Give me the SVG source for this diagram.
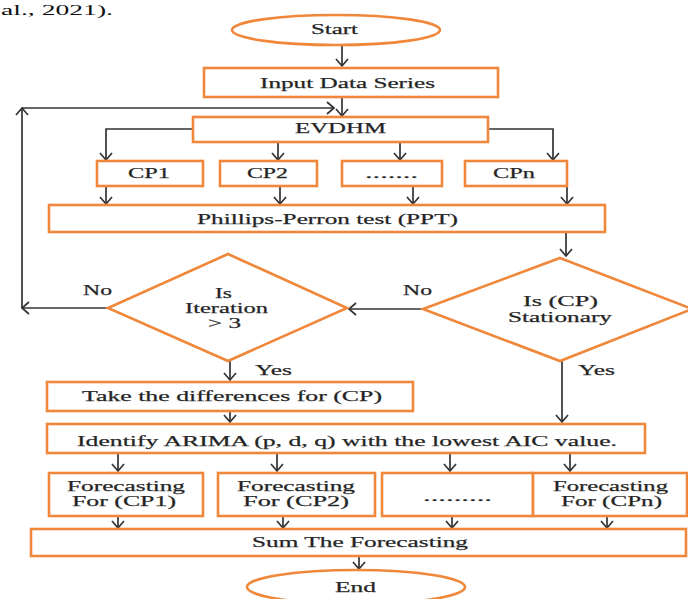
<svg xmlns="http://www.w3.org/2000/svg" width="688" height="599" viewBox="0 0 688 599">
<style>
.box{fill:#fff;stroke:#F0883C;stroke-width:2.6}
.t{font-family:"Liberation Serif","Times New Roman",serif;font-size:15px;fill:#222;stroke:#333;stroke-width:0.25}
.c{fill:none;stroke:#333;stroke-width:1.7}
</style>
<defs>
<marker id="ah" viewBox="-9 -7 11 14" refX="0" refY="0" markerWidth="11" markerHeight="14" markerUnits="userSpaceOnUse" orient="auto">
<path d="M-7,-6 L0,0 L-7,6" fill="none" stroke="#333" stroke-width="1.7"/>
</marker>
</defs>
<rect width="688" height="599" fill="#fff"/>
<text x="1" y="15" font-family="Liberation Serif, serif" font-size="15" fill="#111" textLength="112" lengthAdjust="spacingAndGlyphs">al., 2021).</text>

<g id="connectors" class="c" marker-end="url(#ah)">
<path d="M342,45 V66"/>
<path d="M342,97 V116"/>
<path d="M108,308 H22"/>
<path d="M22,308 V108"/>
<path d="M22,108 H334"/>
<path d="M193,129 H106 V160"/>
<path d="M278,142 V160"/>
<path d="M400,142 V160"/>
<path d="M488,129 H553 V160"/>
<path d="M106,186 V204"/>
<path d="M280,186 V204"/>
<path d="M413,186 V204"/>
<path d="M567,186 V204"/>
<path d="M566,232 V256"/>
<path d="M423,309 H349"/>
<path d="M230,361 V380"/>
<path d="M562,361 V422"/>
<path d="M230,411 V422"/>
<path d="M118,453 V471"/>
<path d="M277,453 V471"/>
<path d="M450,453 V471"/>
<path d="M570,453 V471"/>
<path d="M118,516 V528"/>
<path d="M283,516 V528"/>
<path d="M452,516 V528"/>
<path d="M607,516 V528"/>
<path d="M359,556 V569"/>
</g>

<g id="start"><ellipse class="box" cx="336" cy="30" rx="104" ry="15"/><text class="t" x="311" y="34" textLength="47" lengthAdjust="spacingAndGlyphs">Start</text></g>
<g id="input"><rect class="box" x="204" y="68" width="294" height="29"/><text class="t" x="260" y="88" textLength="175" lengthAdjust="spacingAndGlyphs">Input Data Series</text></g>
<g id="evdhm"><rect class="box" x="193" y="117" width="295" height="25"/><text class="t" x="295" y="133" textLength="91" lengthAdjust="spacingAndGlyphs">EVDHM</text></g>
<g id="cp1"><rect class="box" x="97" y="161" width="106" height="25"/><text class="t" x="128" y="178" textLength="42" lengthAdjust="spacingAndGlyphs">CP1</text></g>
<g id="cp2"><rect class="box" x="220" y="161" width="97" height="25"/><text class="t" x="247" y="178" textLength="41" lengthAdjust="spacingAndGlyphs">CP2</text></g>
<g id="cpdots"><rect class="box" x="342" y="161" width="100" height="25"/><text class="t" x="365" y="178" textLength="53" lengthAdjust="spacingAndGlyphs">.......</text></g>
<g id="cpn"><rect class="box" x="465" y="161" width="102" height="25"/><text class="t" x="493" y="178" textLength="42" lengthAdjust="spacingAndGlyphs">CPn</text></g>
<g id="ppt"><rect class="box" x="49" y="205" width="556" height="27"/><text class="t" x="197" y="224" textLength="261" lengthAdjust="spacingAndGlyphs">Phillips-Perron test (PPT)</text></g>
<g id="iter"><polygon class="box" points="228,254 347,308 228,361 108,308"/>
<text class="t" x="215" y="298" textLength="17" lengthAdjust="spacingAndGlyphs">Is</text>
<text class="t" x="185" y="313" textLength="83" lengthAdjust="spacingAndGlyphs">Iteration</text>
<text class="t" x="208" y="328" textLength="33" lengthAdjust="spacingAndGlyphs">&gt; 3</text></g>
<g id="stationary"><polygon class="box" points="560,258 692,309 560,361 423,309"/>
<text class="t" x="523" y="306" textLength="75" lengthAdjust="spacingAndGlyphs">Is (CP)</text>
<text class="t" x="508" y="322" textLength="104" lengthAdjust="spacingAndGlyphs">Stationary</text></g>
<g id="labels">
<text class="t" x="83" y="295" textLength="29" lengthAdjust="spacingAndGlyphs">No</text>
<text class="t" x="403" y="295" textLength="29" lengthAdjust="spacingAndGlyphs">No</text>
<text class="t" x="255" y="375" textLength="37" lengthAdjust="spacingAndGlyphs">Yes</text>
<text class="t" x="578" y="375" textLength="37" lengthAdjust="spacingAndGlyphs">Yes</text>
</g>
<g id="diff"><rect class="box" x="47" y="382" width="366" height="29"/><text class="t" x="82" y="401" textLength="300" lengthAdjust="spacingAndGlyphs">Take the differences for (CP)</text></g>
<g id="arima"><rect class="box" x="47" y="424" width="598" height="29"/><text class="t" x="77" y="446" textLength="540" lengthAdjust="spacingAndGlyphs">Identify ARIMA (p, d, q) with the lowest AIC value.</text></g>
<g id="f1"><rect class="box" x="49" y="473" width="154" height="43"/>
<text class="t" x="67" y="491" textLength="118" lengthAdjust="spacingAndGlyphs">Forecasting</text>
<text class="t" x="72" y="506" textLength="104" lengthAdjust="spacingAndGlyphs">For (CP1)</text></g>
<g id="f2"><rect class="box" x="218" y="473" width="157" height="43"/>
<text class="t" x="237" y="491" textLength="118" lengthAdjust="spacingAndGlyphs">Forecasting</text>
<text class="t" x="243" y="506" textLength="106" lengthAdjust="spacingAndGlyphs">For (CP2)</text></g>
<g id="f3"><rect class="box" x="382" y="473" width="151" height="43"/>
<text class="t" x="423" y="501" textLength="69" lengthAdjust="spacingAndGlyphs">.........</text></g>
<g id="f4"><rect class="box" x="533" y="473" width="154" height="43"/>
<text class="t" x="553" y="491" textLength="115" lengthAdjust="spacingAndGlyphs">Forecasting</text>
<text class="t" x="561" y="506" textLength="101" lengthAdjust="spacingAndGlyphs">For (CPn)</text></g>
<g id="sum"><rect class="box" x="31" y="529" width="655" height="27"/><text class="t" x="252" y="547" textLength="216" lengthAdjust="spacingAndGlyphs">Sum The Forecasting</text></g>
<g id="end"><ellipse class="box" cx="356" cy="587" rx="109" ry="17"/><text class="t" x="335" y="592" textLength="41" lengthAdjust="spacingAndGlyphs">End</text></g>
</svg>
